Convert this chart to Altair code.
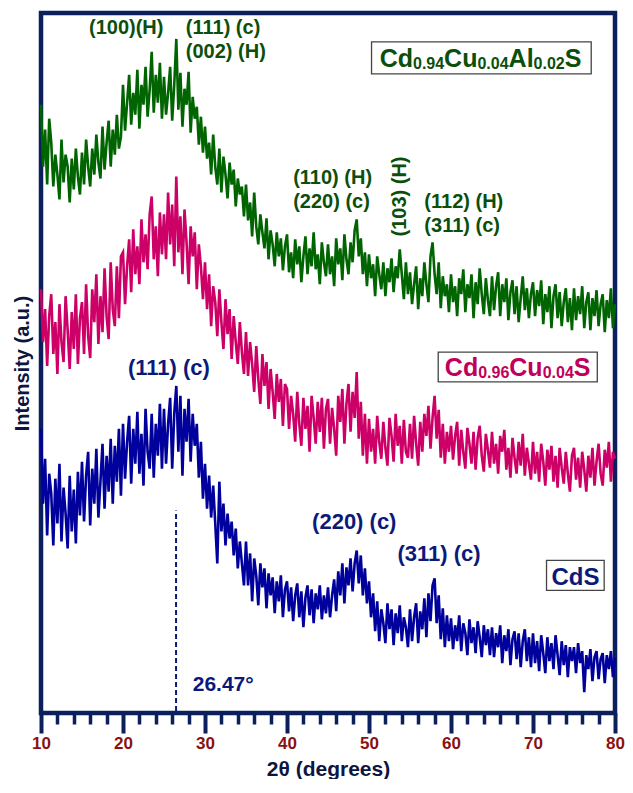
import altair as alt
import pandas as pd

# ---------------- data ----------------
two_theta = [round(10 + 0.25 * i, 2) for i in range(281)]

green = [
    610, 548, 585, 530, 596, 572, 528, 560, 540, 515, 575, 532, 560, 548, 512, 556, 525, 566, 538, 520,
    562, 530, 575, 548, 528, 566, 540, 580, 552, 536, 588, 545, 572, 594, 548, 585, 560, 600, 566, 578,
    630, 584, 612, 640, 590, 622, 600, 645, 586, 630, 610, 648, 598, 625, 663, 602, 640, 612, 652, 596,
    638, 600, 622, 648, 594, 630, 676, 605, 642, 588, 626, 610, 643, 582, 618, 596, 608, 570, 598, 562,
    588, 556, 572, 540, 580, 548, 530, 566, 522, 558, 540, 516, 552, 530, 545, 508, 536, 520, 528, 498,
    530, 494, 512, 478, 522, 488, 470, 500, 482, 466, 496, 455, 484, 470, 448, 482, 458, 476, 444, 468,
    480, 442, 462, 436, 475, 450, 468, 432, 458, 478, 440, 466, 448, 482, 445, 460, 430, 472, 452, 438,
    470, 440, 458, 428, 476, 450, 466, 434, 480, 455, 440, 472, 452, 484, 495, 458, 476, 440, 462, 428,
    460, 436, 450, 418, 458, 440, 425, 452, 418, 446, 432, 456, 422, 448, 436, 465, 440, 415, 452, 420,
    442, 410, 430, 448, 405, 436, 418, 452, 430, 412, 458, 472, 440, 420, 452, 406, 438, 418, 430, 402,
    440, 412, 428, 398, 436, 420, 445, 402, 430, 416, 440, 396, 432, 410, 446, 420, 400, 436, 414, 398,
    438, 404, 428, 442, 398, 430, 412, 436, 394, 422, 434, 400, 428, 392, 416, 438, 404, 426, 396, 420,
    432, 398, 424, 408, 434, 390, 420, 402, 428, 386, 418, 430, 396, 422, 388, 412, 426, 392, 416, 384,
    426, 394, 418, 400, 428, 386, 412, 422, 384, 416, 398, 424, 388, 410, 420, 382, 414, 396, 426, 386,
    410,
]

magenta = [
    425, 372, 405, 348, 398, 420, 360, 392, 340, 410, 372, 352, 418, 384, 345, 402, 365, 420, 350, 396,
    412, 360, 430, 378, 356, 425, 392, 440, 370, 418, 382, 446, 398, 375, 452, 405, 388, 448, 396, 458,
    462, 410, 448, 475, 422, 485, 440, 468, 430, 495, 452, 480, 445, 500, 518, 455, 488, 438, 502, 460,
    500, 455, 522, 470, 510, 448, 538, 462, 498, 440, 505, 472, 430, 488, 458, 482, 425, 470, 448, 415,
    452, 405, 440, 388, 428, 412, 378, 425, 392, 365, 415, 380, 405, 355, 398, 372, 350, 392, 362, 340,
    382, 338, 372, 350, 322, 368, 335, 310, 360, 328, 352, 305, 345, 322, 295, 340, 312, 335, 288, 330,
    325, 285, 318, 300, 272, 322, 290, 268, 316, 285, 308, 262, 318, 296, 270, 312, 282, 316, 265, 305,
    315, 270, 306, 285, 258, 318, 292, 325, 270, 310, 330, 282, 322, 296, 342, 275, 312, 258, 300, 250,
    295, 262, 285, 250, 298, 272, 255, 292, 266, 248, 296, 278, 252, 300, 268, 288, 250, 294, 262, 256,
    290, 255, 298, 270, 248, 292, 262, 300, 278, 308, 265, 296, 318, 275, 304, 256, 290, 250, 282, 262,
    288, 254, 278, 292, 248, 284, 262, 245, 286, 270, 250, 282, 244, 276, 288, 258, 242, 280, 264, 246,
    282, 250, 270, 240, 278, 262, 284, 244, 266, 236, 276, 256, 240, 272, 248, 280, 238, 266, 250, 234,
    272, 240, 262, 232, 270, 252, 228, 264, 244, 268, 232, 258, 226, 266, 246, 230, 262, 240, 222, 258,
    266, 234, 256, 226, 262, 244, 222, 258, 236, 266, 228, 252, 270, 240, 228, 264, 246, 272, 232, 262,
    255,
]

blue = [
    285, 210, 255, 178, 240, 220, 168, 235, 190, 250, 172, 226, 200, 165, 238, 182, 224, 170, 242, 198,
    252, 192, 238, 262, 188, 245, 210, 265, 196, 232, 270, 205, 258, 222, 275, 210, 268, 232, 285, 218,
    290, 235, 272, 298, 230, 285, 250, 302, 240, 280, 228, 305, 262, 245, 300, 236, 290, 258, 310, 245,
    305, 250, 290, 316, 245, 300, 328, 262, 318, 238, 305, 272, 315, 252, 300, 268, 290, 236, 272, 215,
    250, 205, 238, 196, 228, 190, 150, 232, 182, 210, 168, 200, 175, 192, 158, 185, 145, 172, 150, 128,
    172, 128, 160, 112, 155, 138, 108, 150, 126, 145, 105, 140, 118, 136, 100, 132, 112, 138, 96, 124,
    132, 102, 126, 92, 118, 130, 96, 122, 86, 116, 128, 98, 124, 90, 120, 104, 128, 94, 118, 100,
    126, 96, 118, 134, 102, 142, 118, 150, 110, 146, 128, 155, 122, 150, 163, 130, 158, 118, 145, 110,
    132, 96, 120, 82, 112, 72, 104, 90, 70, 110, 84, 104, 68, 100, 80, 108, 72, 96, 86, 66,
    104, 72, 96, 110, 70, 102, 84, 115, 76, 120, 92, 128, 135, 90, 118, 74, 105, 66, 98, 72,
    95, 64, 88, 72, 98, 62, 90, 80, 58, 94, 70, 86, 60, 92, 76, 56, 88, 68, 84, 58,
    86, 56, 80, 66, 88, 50, 78, 62, 84, 48, 74, 82, 54, 80, 46, 72, 84, 52, 76, 46,
    80, 50, 72, 42, 78, 60, 40, 76, 52, 70, 44, 78, 58, 38, 72, 48, 68, 36, 66, 52,
    66, 40, 70, 50, 62, 21, 58, 44, 64, 32, 56, 62, 34, 54, 60, 30, 58, 44, 62, 36,
    55,
]

assert len(green) == len(magenta) == len(blue) == len(two_theta)

series_names = ["CdS", "Cd0.96Cu0.04S", "Cd0.94Cu0.04Al0.02S"]
line_colors = ["#00009c", "#cc0066", "#006400"]

major_ticks = [10, 20, 30, 40, 50, 60, 70, 80]
minor_ticks = [12, 14, 16, 18, 22, 24, 26, 28, 32, 34, 36, 38, 42, 44, 46, 48,
               52, 54, 56, 58, 62, 64, 66, 68, 72, 74, 76, 78]

peak_line_x = 26.47

GREEN_TXT = "#0b4f0b"
PINK_TXT = "#c0005a"
BLUE_TXT = "#0b1a7a"
FRAME = "#0a1f5c"
FONT = "Liberation Sans"

PLOT_W = 574
PX_PER_DEG = PLOT_W / 70.0

# annotations: text, x (2theta), y (a.u.), colour, size, align, angle
ann_text = ["(100)(H)", "(111) (c)", "(002) (H)", "(110) (H)", "(220) (c)", "(103) (H)",
            "(112) (H)", "(311) (c)", "(111) (c)", "(220) (c)", "(311) (c)", "26.47°"]
ann_x = [20.39, 27.66, 27.66, 40.75, 40.75, 53.84, 56.75, 56.75, 25.6, 43.06, 53.48, 28.5]
ann_y = [687, 687, 663, 537, 512, 518, 512, 488, 346, 192, 159, 28]
ann_color = [GREEN_TXT] * 8 + [BLUE_TXT] * 4
ann_size = [20] * 8 + [22, 22, 22, 21]
ann_align = ["center", "left", "left", "left", "left", "center", "left", "left",
             "center", "left", "left", "left"]
ann_angle = [0, 0, 0, 0, 0, 270, 0, 0, 0, 0, 0, 0]

# label boxes (x, x2, y, y2)
box_x = [50.31, 58.44, 71.65]
box_x2 = [77.10, 77.84, 78.68]
box_y = [641, 332, 123]
box_y2 = [673, 362, 153]

# ---------------- build tables ----------------
rows = []
for name, vals in zip(series_names, [blue, magenta, green]):
    for t, v in zip(two_theta, vals):
        rows.append({"two_theta": t, "intensity": v, "sample": name})
lines_df = pd.DataFrame(rows)

W = {"C": .722, "d": .611, "u": .611, "A": .722, "l": .278, "S": .667, ".": .278}


def text_width(s, size):
    return sum(W.get(ch, .556) for ch in s) * size


def sub_label(parts, x0, y0, color):
    out = []
    x = x0
    for txt, is_sub in parts:
        fs = 16 if is_sub else 25
        out.append({"x": x, "y": y0 - (2 if is_sub else 0), "text": txt, "fs": fs, "color": color})
        x += text_width(txt, fs) / PX_PER_DEG
    return out


seg_rows = []
seg_rows += sub_label([("Cd", 0), ("0.94", 1), ("Cu", 0), ("0.04", 1), ("Al", 0), ("0.02", 1), ("S", 0)],
                      51.3, 648, GREEN_TXT)
seg_rows += sub_label([("Cd", 0), ("0.96", 1), ("Cu", 0), ("0.04", 1), ("S", 0)], 59.25, 338, PINK_TXT)
seg_df = pd.DataFrame(seg_rows)

ann_df = pd.DataFrame({"x": ann_x, "y": ann_y, "text": ann_text, "color": ann_color,
                       "fs": ann_size, "align": ann_align, "angle": ann_angle})
box_df = pd.DataFrame({"x": box_x, "x2": box_x2, "y": box_y, "y2": box_y2})
cds_df = pd.DataFrame({"x": [75.17], "y": [128], "text": ["CdS"]})
rule_df = pd.DataFrame({"x": [peak_line_x], "y": [2], "y2": [203]})

xscale = alt.Scale(domain=[10, 80], nice=False, zero=False)
yscale = alt.Scale(domain=[0, 702], nice=False, zero=False)

major_axis = alt.Axis(values=major_ticks, orient="bottom", tickSize=20, tickWidth=4, tickColor=FRAME,
                      domain=False, grid=False, labelFont=FONT, labelFontWeight="bold", labelFontSize=17,
                      labelColor="#8b1111", labelPadding=2, labelFlush=False,
                      title="2θ (degrees)", titleFont=FONT, titleFontSize=21, titleFontWeight="bold",
                      titleColor="#0d1540", titlePadding=7)
minor_axis = alt.Axis(values=minor_ticks, orient="bottom", tickSize=11, tickWidth=3.5, tickColor=FRAME,
                      domain=False, grid=False, labels=False, title="")
y_axis = alt.Axis(ticks=False, labels=False, domain=False, grid=False, orient="left",
                  title="Intensity (a.u.)", titleFont=FONT, titleFontSize=20, titleFontWeight="bold",
                  titleColor="#0d1540", titlePadding=9)

lines = alt.Chart(lines_df).mark_line(strokeWidth=2.6, interpolate="linear").encode(
    x=alt.X("two_theta:Q", scale=xscale, axis=major_axis),
    y=alt.Y("intensity:Q", scale=yscale, axis=y_axis),
    color=alt.Color("sample:N", scale=alt.Scale(domain=series_names, range=line_colors), legend=None),
    detail="sample:N",
)

rule = alt.Chart(rule_df).mark_rule(strokeDash=[5, 3], strokeWidth=2, color=BLUE_TXT).encode(
    x=alt.X("x:Q", scale=xscale, axis=minor_axis),
    y=alt.Y("y:Q", scale=yscale, axis=None),
    y2="y2:Q",
)

boxes = alt.Chart(box_df).mark_rect(fill="white", stroke="#444444", strokeWidth=1.3).encode(
    x=alt.X("x:Q", scale=xscale, axis=None), x2="x2:Q",
    y=alt.Y("y:Q", scale=yscale, axis=None), y2="y2:Q",
)

ann_layers = []
for al in ["left", "center"]:
    for ang in [0, 270]:
        sub = ann_df[(ann_df["align"] == al) & (ann_df["angle"] == ang)]
        if len(sub) == 0:
            continue
        ann_layers.append(
            alt.Chart(sub).mark_text(font=FONT, fontWeight="bold", align=al, baseline="middle", angle=ang).encode(
                x=alt.X("x:Q", scale=xscale, axis=None),
                y=alt.Y("y:Q", scale=yscale, axis=None),
                text="text:N",
                color=alt.Color("color:N", scale=None),
                size=alt.Size("fs:Q", scale=None),
            )
        )

segs = alt.Chart(seg_df).mark_text(font=FONT, fontWeight="bold", align="left", baseline="alphabetic").encode(
    x=alt.X("x:Q", scale=xscale, axis=None),
    y=alt.Y("y:Q", scale=yscale, axis=None),
    text="text:N",
    color=alt.Color("color:N", scale=None),
    size=alt.Size("fs:Q", scale=None),
)

cds = alt.Chart(cds_df).mark_text(font=FONT, fontWeight="bold", align="center", baseline="alphabetic",
                                  fontSize=24, color=BLUE_TXT).encode(
    x=alt.X("x:Q", scale=xscale, axis=None),
    y=alt.Y("y:Q", scale=yscale, axis=None),
    text="text:N",
)

chart = alt.layer(lines, rule, boxes, *ann_layers, segs, cds).resolve_axis(
    x="independent", y="independent"
).properties(
    width=PLOT_W, height=700, padding={"left": 4, "top": 5, "right": 0, "bottom": 0},
).configure_view(stroke=FRAME, strokeWidth=4.5)

chart.save("out.html", embed_options={"renderer": "svg", "actions": False})
